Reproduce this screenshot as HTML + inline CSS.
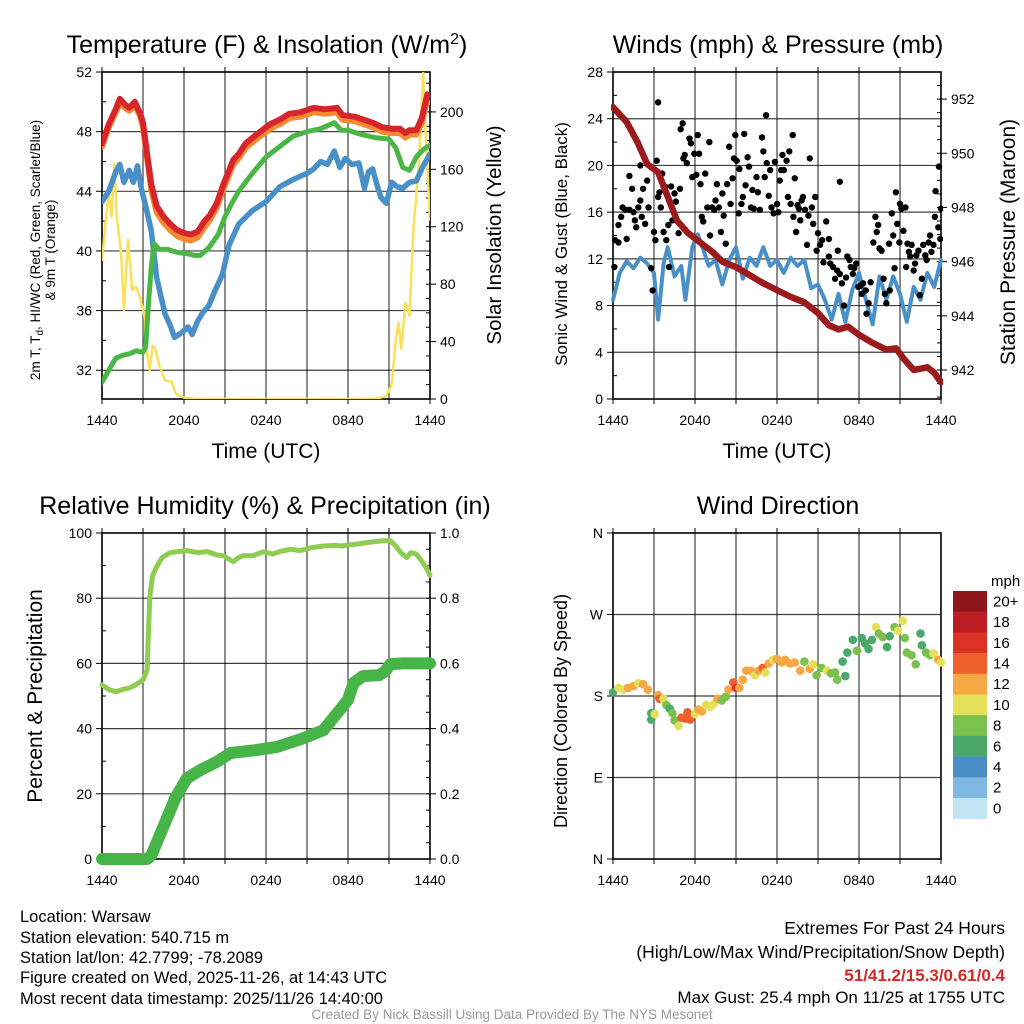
<!DOCTYPE html>
<html><head><meta charset="utf-8"><style>
body{margin:0;background:#fff;}
svg{display:block;font-family:"Liberation Sans",Arial,sans-serif;}
</style></head><body>
<svg id="c" width="1024" height="1024" viewBox="0 0 1024 1024" xmlns="http://www.w3.org/2000/svg">
<rect width="1024" height="1024" fill="#fff"/>
<g id="p1"></g>
<g id="p2"></g>
<g id="p3"></g>
<g id="p4"></g>
<g font-size="16.5" fill="#000">
<text x="20" y="922">Location: Warsaw</text>
<text x="20" y="943">Station elevation: 540.715 m</text>
<text x="20" y="963">Station lat/lon: 42.7799; -78.2089</text>
<text x="20" y="983">Figure created on Wed, 2025-11-26, at 14:43 UTC</text>
<text x="20" y="1004">Most recent data timestamp: 2025/11/26 14:40:00</text>
<text x="1005" y="934" text-anchor="end" font-size="17.5">Extremes For Past 24 Hours</text>
<text x="1005" y="958" text-anchor="end" font-size="17.5">(High/Low/Max Wind/Precipitation/Snow Depth)</text>
<text x="1005" y="981" text-anchor="end" font-size="17" fill="#d62728" font-weight="bold">51/41.2/15.3/0.61/0.4</text>
<text x="1005" y="1003" text-anchor="end" font-size="17">Max Gust: 25.4 mph On 11/25 at 1755 UTC</text>
<text x="512" y="1019" text-anchor="middle" font-size="13.5" fill="#999">Created By Nick Bassill Using Data Provided By The NYS Mesonet</text>
</g>
</svg>
<script>
// ---------- data ----------
const xTickLabels=["1440","2040","0240","0840","1440"];
// Temperature panel (hours since 1440 UTC)
const redH=[0,0.5,1,1.3,1.7,2,2.4,2.8,3.0,3.3,3.6,4,4.5,5,5.5,6,6.5,7,7.5,7.9,8.4,8.9,9.3,9.6,10,10.5,11.3,12.3,13,13.7,14.5,15.5,16.3,17.2,17.6,18.5,19.8,20.5,21.2,21.8,22.2,22.5,23,23.4,23.8,24];
const redT=[47.2,48.5,49.5,50.2,49.8,49.6,50.0,49.2,48.6,46.5,44.5,43.0,42.3,41.8,41.4,41.2,41.1,41.3,42.0,42.4,43.2,44.5,45.4,46.1,46.5,47.2,47.8,48.5,48.8,49.2,49.3,49.6,49.5,49.6,49.1,49.0,48.6,48.3,48.2,48.2,47.9,48.1,48.1,48.9,50.5,50.3];
const orgT=[47.0,48.3,49.3,49.9,49.6,49.4,49.8,49.0,48.3,46.2,44.1,42.6,41.9,41.4,41.0,40.8,40.7,40.9,41.6,42.1,42.9,44.2,45.1,45.8,46.2,46.9,47.5,48.2,48.5,48.9,49.0,49.3,49.2,49.3,48.8,48.7,48.3,48.0,47.9,47.9,47.6,47.8,47.8,48.6,50.2,50.0];
const grnH=[0,0.5,1,1.5,2,2.5,3,3.2,3.4,3.6,3.8,4.2,4.8,5.5,6.3,6.8,7.2,7.8,8.5,9,9.5,10,11,12,13,14,15,16,17,17.5,18,19,20,21,21.5,22,22.5,23,23.5,24];
const grnT=[31.2,32.0,32.8,33.0,33.1,33.3,33.2,33.6,36.5,38.8,40.5,40.1,40.1,39.9,39.8,39.7,39.7,40.2,41.1,42.3,43.2,44.0,45.2,46.3,47.0,47.7,48.0,48.2,48.6,48.1,48.1,47.8,47.6,47.5,46.9,45.6,45.4,46.3,46.8,47.1];
const bluH=[0,0.5,1,1.3,1.6,2,2.3,2.6,2.9,3.2,3.6,4,4.3,4.6,5,5.3,5.8,6.3,6.6,7,7.4,7.8,8.2,8.8,9.3,10,11,12,13,14,15,15.5,16,16.5,17,17.4,17.8,18.3,18.8,19.2,19.5,19.8,20.1,20.4,20.8,21.2,21.6,22,22.5,23,23.5,24];
const bluT=[43.3,44.0,45.3,45.8,44.6,45.4,44.6,45.7,44.1,43.0,41.4,38.2,37.0,35.8,35.0,34.2,34.5,34.9,34.4,35.3,35.9,36.3,37.2,38.4,40.4,41.8,42.7,43.3,44.3,44.8,45.2,45.5,46.0,45.8,46.7,45.6,46.2,45.8,45.9,44.2,45.3,45.5,44.5,43.6,43.2,44.6,44.3,44.2,44.6,44.7,45.7,46.5];
const solH=[0,0.3,0.5,0.7,0.9,1.1,1.4,1.6,1.9,2.2,2.5,2.8,3.1,3.3,3.5,3.7,3.9,4.2,4.6,5.1,5.4,6,7,20,20.8,21.2,21.5,21.7,21.9,22.2,22.5,22.8,23.2,23.5,23.6,24];
const solW=[97,127,143,127,164,125,102,62,111,76,78,70,58,32,20,37,35,23,13,12,4,1,0,0,2,10,41,53,35,67,58,120,166,227,200,125];
// Winds panel
const presH=[0,1,1.8,2.5,3.3,4,4.7,5.5,6.4,7.3,8,9,10,11,12,13,14,15,15.8,16.5,17.2,18,19,20,20.7,21.3,22,22.5,23,23.5,24];
const presMb=[951.7,951.15,950.4,949.6,949.3,948.4,947.5,947.05,946.7,946.35,946.0,945.8,945.5,945.2,944.95,944.7,944.5,944.1,943.65,943.5,943.6,943.3,943.0,942.75,942.8,942.4,942.0,942.05,942.1,941.9,941.55];
const windH=[0,0.5,1,1.5,2,2.5,3,3.3,3.7,4,4.5,5,5.3,5.8,6.2,6.6,7,7.5,8,8.5,9,9.5,10,10.5,11,11.5,12,12.5,13,13.5,14,14.5,15,15.5,16,16.5,17,17.5,18,18.5,19,19.5,20,20.5,21,21.5,22,22.5,23,23.5,24];
const windMph=[8.5,10.8,11.8,11.2,12.1,11.6,10.8,6.8,11.6,13.0,10.5,11.4,8.5,13.0,14.1,12.8,11.4,11.9,9.8,11.9,13.0,10.3,12.1,11.4,13.0,11.4,11.9,10.8,12.1,11.4,11.9,9.5,9.8,8.5,6.8,9.0,6.6,9.3,10.8,8.5,6.4,10.5,8.5,10.5,9.0,6.6,9.6,8.5,10.8,9.6,11.9];
const gustH=[0.1,0.15,0.4,0.4,0.6,0.7,0.9,1.0,1.2,1.2,1.4,1.5,1.6,1.7,1.85,2.0,2.0,2.1,2.2,2.35,2.5,2.6,2.8,2.9,3.0,3.1,3.2,3.3,3.3,3.4,3.5,3.6,3.7,3.8,3.9,4.05,4.1,4.25,4.35,4.5,4.6,4.8,4.9,4.95,5.1,5.15,5.25,5.4,5.6,5.7,5.8,5.95,6.1,6.2,6.3,6.4,6.5,6.6,6.75,6.9,7.05,7.1,7.25,7.4,7.5,7.6,7.75,7.9,8.0,8.1,8.25,8.35,8.5,8.6,8.75,8.85,8.95,9.05,9.2,9.25,9.4,9.5,9.6,9.7,9.85,9.95,10.1,10.2,10.3,10.5,10.6,10.75,10.9,11.0,11.1,11.2,11.25,11.4,11.5,11.6,11.75,11.85,12.0,12.1,12.2,12.3,12.4,12.5,12.7,12.8,12.9,13.0,13.15,13.2,13.3,13.4,13.5,13.6,13.7,13.8,13.9,14.05,14.2,14.3,14.4,14.55,14.65,14.8,14.9,15.0,15.15,15.3,15.4,15.6,15.8,15.8,15.9,16.1,16.25,16.4,16.45,16.6,16.6,16.75,16.9,17.05,17.15,17.3,17.4,17.55,17.65,17.8,17.95,18.1,18.2,18.3,18.5,18.55,18.7,18.85,19.05,19.2,19.3,19.4,19.5,19.65,19.8,19.9,20.0,20.2,20.25,20.4,20.5,20.6,20.7,20.8,20.95,21.0,21.1,21.25,21.4,21.45,21.55,21.65,21.75,21.85,22.0,22.1,22.2,22.35,22.45,22.6,22.7,22.85,22.95,23.1,23.2,23.3,23.45,23.55,23.6,23.8,23.85,23.95,24.0];
const gustMph=[11.3,13.6,13.4,14.9,15.6,16.4,16.2,13.7,19.1,16.2,18.0,16.0,15.3,14.7,16.4,20.0,17.0,15.6,18.0,15.0,18.7,16.4,11.2,9.3,14.3,13.6,20.4,17.3,25.4,17.7,16.4,19.3,14.3,18.2,13.6,14.9,11.3,18.2,15.3,17.6,16.9,14.2,18.0,23.1,23.6,20.6,20.9,20.2,22.3,21.9,19.0,21.0,19.2,22.6,21.0,18.4,15.6,15.2,19.3,16.4,22.0,14.0,16.4,16.2,17.0,18.4,16.4,14.3,17.6,15.7,13.3,18.4,21.6,16.7,18.9,20.6,22.6,20.4,15.9,19.7,16.7,17.3,22.7,18.3,20.7,19.9,16.4,17.9,16.3,19.0,17.7,16.2,22.4,21.2,19.0,24.3,20.2,17.4,19.6,16.4,15.9,20.3,16.7,16.0,18.7,19.6,20.9,19.6,20.4,17.3,21.2,16.7,22.6,15.6,18.9,14.3,16.6,16.3,15.3,17.0,17.3,16.2,13.2,15.7,20.6,16.4,15.0,17.3,12.7,14.2,13.2,13.6,11.7,15.2,13.7,12.2,11.6,11.3,10.3,11.0,12.7,18.6,10.7,9.9,8.0,10.4,12.2,11.9,11.3,10.7,11.2,11.6,9.6,9.7,9.0,9.9,9.3,7.3,8.2,10.0,13.4,15.6,14.3,14.9,12.9,12.7,10.3,9.0,8.2,13.3,9.3,15.9,14.0,11.2,17.7,15.0,13.4,16.7,16.3,14.4,16.4,11.3,13.3,12.6,12.2,13.2,11.0,11.6,12.3,12.7,8.9,10.3,13.2,12.3,11.9,13.4,14.0,12.6,13.2,15.6,17.8,14.7,19.9,13.7,16.3];
// Humidity panel
const rhH=[0,0.5,1,1.5,2,2.5,3,3.3,3.5,3.7,4.0,4.4,4.9,5.5,6.2,7,7.7,8.5,8.9,9.3,9.6,10,10.3,11,11.8,12.5,13,13.8,14.5,15.3,16.2,17,17.5,18.6,19.6,20.5,21.1,21.5,21.9,22.3,22.6,23,23.3,23.7,24];
const rhPct=[53.4,52.0,51.3,52.0,52.5,53.5,54.9,58,80.5,87,89.7,92.5,93.8,94.3,94.6,94.0,94.3,93.2,93.0,92.0,91.2,92.5,93.0,93.0,94.2,93.6,94.3,95.0,94.6,95.5,96.0,96.2,96.0,96.6,97.2,97.6,97.6,96.0,93.8,92.5,94.0,93.5,92.0,89.5,87.0];
const prH=[0,1,2,3,3.3,3.6,4.0,4.7,5.4,6.2,7.2,8.4,9.4,11.3,12.8,14.7,16.2,17.2,18.0,18.4,19.1,20.3,20.7,21.1,22,23,24];
const prIn=[0,0,0,0,0,0.01,0.05,0.12,0.19,0.247,0.273,0.298,0.325,0.334,0.344,0.37,0.395,0.447,0.488,0.54,0.561,0.564,0.575,0.598,0.6,0.6,0.6];
// Wind direction panel
const dirH=[0.0,0.4,0.75,1.1,1.5,1.85,2.2,2.55,2.8,2.8,3.05,3.3,3.4,3.7,3.9,4.15,4.35,4.5,4.8,5.0,5.3,5.45,5.65,6.0,6.25,6.5,6.8,7.1,7.35,7.65,7.95,8.25,8.45,8.8,9.0,9.25,9.5,9.75,10.1,10.4,10.65,10.95,11.15,11.4,11.7,12.0,12.35,12.6,12.95,13.3,13.7,14.0,14.4,14.65,14.9,15.25,15.65,15.95,16.25,16.4,16.8,17.0,17.15,17.55,17.85,18.2,18.45,18.7,18.95,19.25,19.45,19.75,20.05,20.25,20.6,20.85,21.2,21.35,21.5,21.85,22.15,22.5,22.6,22.9,23.2,23.45,23.8,24.0];
const dirDeg=[184,189,187,189,191,194,193,187,161,154,160,181,177,177,170,166,161,153,147,156,155,162,154,160,165,163,170,168,171,177,175,179,187,195,189,189,198,208,208,203,208,211,206,216,220,221,217,220,216,217,208,218,210,215,203,211,208,205,206,198,218,202,228,242,230,244,238,232,242,256,249,245,234,246,256,252,263,244,228,225,215,249,236,228,225,227,220,217];
const dirSpd=[7,10,11,12,12,11,12,12,7,6,10,13,15,10,9,7,8,9,10,14,15,15,14,11,13,12,10,11,10,12,9,9,12,15,16,12,12,12,12,10,12,14,10,12,11,12,12,12,12,12,12,8,12,10,8,8,10,8,8,8,7,7,7,6,8,7,6,6,7,10,9,8,6,7,8,10,10,8,8,8,8,6,7,8,8,10,12,10];
const cbLabels=["20+","18","16","14","12","10","8","6","4","2","0"];
const cbColors=["#8e1519","#bd1e24","#dc3226","#ee612d","#f6a845","#e6df5a","#7cc04d","#4aa96b","#4a8ec8","#7fb8e2","#c2e5f6"];

// ---------- helpers ----------
const NS="http://www.w3.org/2000/svg";
function mk(parent,tag,attrs,txt){const e=document.createElementNS(NS,tag);for(const k in attrs)e.setAttribute(k,attrs[k]);if(txt!==undefined)e.textContent=txt;parent.appendChild(e);return e;}
function scale(d0,d1,r0,r1){return v=>r0+(v-d0)/(d1-d0)*(r1-r0);}

function frame(g,L,T,R,B,ylo,yhi,ystep,fmt,rlo,rhi,rstep,rfmt,rminor,lminor,titleTxt,titleX){
  const X=scale(0,24,L,R), Y=scale(ylo,yhi,B,T);
  const yfirst=Math.ceil(ylo/ystep-1e-9)*ystep;
  for(let h=3;h<24;h+=3){const l=mk(g,'line',{x1:X(h),x2:X(h),y1:T,y2:B,stroke:'#000','stroke-width':1.2,opacity:0.75});
    }
  for(let v=yfirst;v<yhi-1e-6;v+=ystep){if(Math.abs(Y(v)-B)<2)continue;const l=mk(g,'line',{x1:L,x2:R,y1:Y(v),y2:Y(v),stroke:'#000','stroke-width':1.2,opacity:0.75});
    }
  const ax=mk(g,'rect',{x:L,y:T,width:R-L,height:B-T,fill:'none',stroke:'#000','stroke-width':1.6});
  
  for(let v=yfirst;v<=yhi+1e-6;v+=ystep){
    mk(g,'line',{x1:L-6,x2:L,y1:Y(v),y2:Y(v),stroke:'#000','stroke-width':1});
    const t=mk(g,'text',{x:L-10,y:Y(v)+5,'text-anchor':'end','font-size':14},fmt(v));
    }
  if(lminor){for(let v=yfirst-ystep/2;v<yhi;v+=ystep){if(v>ylo)mk(g,'line',{x1:L,x2:L+4,y1:Y(v),y2:Y(v),stroke:'#000','stroke-width':1});}}
  for(let i=0;i<=8;i++){mk(g,'line',{x1:X(i*3),x2:X(i*3),y1:B,y2:B+5,stroke:'#000','stroke-width':1});
    if(i<8)mk(g,'line',{x1:X(i*3),x2:X(i*3),y1:T-5,y2:T,stroke:'#000','stroke-width':1});}
  xTickLabels.forEach((s,i)=>{const t=mk(g,'text',{x:X(i*6),y:B+26,'text-anchor':'middle','font-size':14},s);
    });
  let RY=null;
  if(rlo!==null){
    RY=scale(rlo,rhi,B,T);
    const first=Math.ceil(rlo/rstep-1e-9)*rstep;
    for(let v=first;v<=rhi+1e-6;v+=rstep){
      mk(g,'line',{x1:R,x2:R+6,y1:RY(v),y2:RY(v),stroke:'#000','stroke-width':1});
      const t=mk(g,'text',{x:R+10,y:RY(v)+5,'font-size':14},rfmt(v));
      }
    const mf=Math.ceil(rlo/rminor-1e-9)*rminor;
    for(let v=mf;v<=rhi+1e-6;v+=rminor)mk(g,'line',{x1:R-4,x2:R,y1:RY(v),y2:RY(v),stroke:'#000','stroke-width':1});
  }
  const tt=mk(g,'text',{x:titleX,y:T-19,'text-anchor':'middle','font-size':25},'');
  tt.innerHTML=titleTxt;
  
  return {X,Y,RY};
}
function line(g,X,Y,hs,vs,color,w,name){
  const d=hs.map((h,i)=>(i?'L':'M')+X(h).toFixed(1)+','+Y(vs[i]).toFixed(1)).join('');
  const p=mk(g,'path',{d:d,fill:'none',stroke:color,'stroke-width':w,'stroke-linejoin':'round','stroke-linecap':'round'});
  
  
  return p;
}

// ---------- panel 1 ----------
(function(){
  const g=document.getElementById('p1');
  const a=frame(g,102,72,430,399,30.07,52,4,v=>Math.round(v),0,227.8,40,v=>v,10,true,
    'Temperature (F) &amp; Insolation (W/m<tspan dy="-9" font-size="16">2</tspan><tspan dy="9">)</tspan>',267);
  const cp=mk(g,'clipPath',{id:'c1'});mk(cp,'rect',{x:102,y:72,width:328,height:327});
  const s=mk(g,'g',{'clip-path':'url(#c1)'});
  line(s,a.X,a.RY,solH,solW,'#fbe05a',2.5,'solar-insolation-line');
  line(s,a.X,a.Y,bluH,bluT,'#4a90c8',5.5,'wind-chill-line');
  line(s,a.X,a.Y,grnH,grnT,'#4bb648',5,'dewpoint-line');
  line(s,a.X,a.Y,redH,orgT,'#f58a32',6,'temp-9m-line');
  line(s,a.X,a.Y,redH,redT,'#d7262b',6,'temp-2m-line');
  const lt=mk(g,'text',{transform:'translate(40,250) rotate(-90)','text-anchor':'middle','font-size':13.5},'');
  lt.innerHTML='2m T, T<tspan dy="3" font-size="10">d</tspan><tspan dy="-3">, HI/WC (Red, Green, Scarlet/Blue)</tspan>';
  
  const lt2=mk(g,'text',{transform:'translate(55,250) rotate(-90)','text-anchor':'middle','font-size':13.5},'& 9m T (Orange)');
  
  const rt=mk(g,'text',{transform:'translate(501,235) rotate(-90)','text-anchor':'middle','font-size':20.5},'Solar Insolation (Yellow)');
  
  const xt=mk(g,'text',{x:266,y:458,'text-anchor':'middle','font-size':21},'Time (UTC)');
  
})();

// ---------- panel 2 ----------
(function(){
  const g=document.getElementById('p2');
  const a=frame(g,613,72,941,399,0,28,4,v=>v,940.93,953,2,v=>v,0.5,true,'Winds (mph) &amp; Pressure (mb)',778);
  const cp=mk(g,'clipPath',{id:'c2'});mk(cp,'rect',{x:611,y:70,width:332,height:331});
  const s=mk(g,'g',{'clip-path':'url(#c2)'});
  line(s,a.X,a.Y,windH,windMph,'#4a90c8',4,'sonic-wind-line');
  gustH.forEach((h,i)=>{const c=mk(s,'circle',{cx:a.X(h),cy:a.Y(gustMph[i]),r:3.2,fill:'#000'});
    
    });
  line(s,a.X,a.RY,presH,presMb,'#9b1a1c',6.5,'pressure-line');
  const lt=mk(g,'text',{transform:'translate(567,244) rotate(-90)','text-anchor':'middle','font-size':17},'Sonic Wind & Gust (Blue, Black)');
  
  const rt=mk(g,'text',{transform:'translate(1015,242) rotate(-90)','text-anchor':'middle','font-size':21},'Station Pressure (Maroon)');
  
  const xt=mk(g,'text',{x:777,y:458,'text-anchor':'middle','font-size':21},'Time (UTC)');
  
})();

// ---------- panel 3 ----------
(function(){
  const g=document.getElementById('p3');
  const a=frame(g,102,533,430,859,0,100,20,v=>v,0,1,0.2,v=>v.toFixed(1),0.05,true,'Relative Humidity (%) &amp; Precipitation (in)',265);
  line(g,a.X,a.Y,rhH,rhPct,'#8fcc52',5,'relative-humidity-line');
  line(g,a.X,a.RY,prH,prIn,'#46b446',12,'precipitation-line');
  const lt=mk(g,'text',{transform:'translate(42,696) rotate(-90)','text-anchor':'middle','font-size':21},'Percent & Precipitation');
  
})();

// ---------- panel 4 ----------
(function(){
  const g=document.getElementById('p4');
  const a=frame(g,613,533,941,859,0,360,90,v=>['N','E','S','W','N'][v/90],null,null,null,null,null,false,'Wind Direction',778);
  function col(s){const idx=Math.min(10,Math.floor(s/2));return cbColors[10-idx];}
  dirH.forEach((h,i)=>{const c=mk(g,'circle',{cx:a.X(h),cy:a.Y(dirDeg[i]),r:4.3,fill:col(dirSpd[i])});
    
    });
  const lt=mk(g,'text',{transform:'translate(567,711) rotate(-90)','text-anchor':'middle','font-size':18},'Direction (Colored By Speed)');
  
  const cb=mk(g,'g',{});
  const top=591,hgt=20.7;
  cbColors.forEach((c,i)=>{const r=mk(cb,'rect',{x:953,y:top+i*hgt,width:34,height:hgt+0.3,fill:c});
    
    const t=mk(cb,'text',{x:993,y:top+i*hgt+hgt/2+5,'font-size':15},cbLabels[i]);
    });
  const u=mk(cb,'text',{x:991,y:586,'font-size':15},'mph');
  
})();
</script>
</body></html>
